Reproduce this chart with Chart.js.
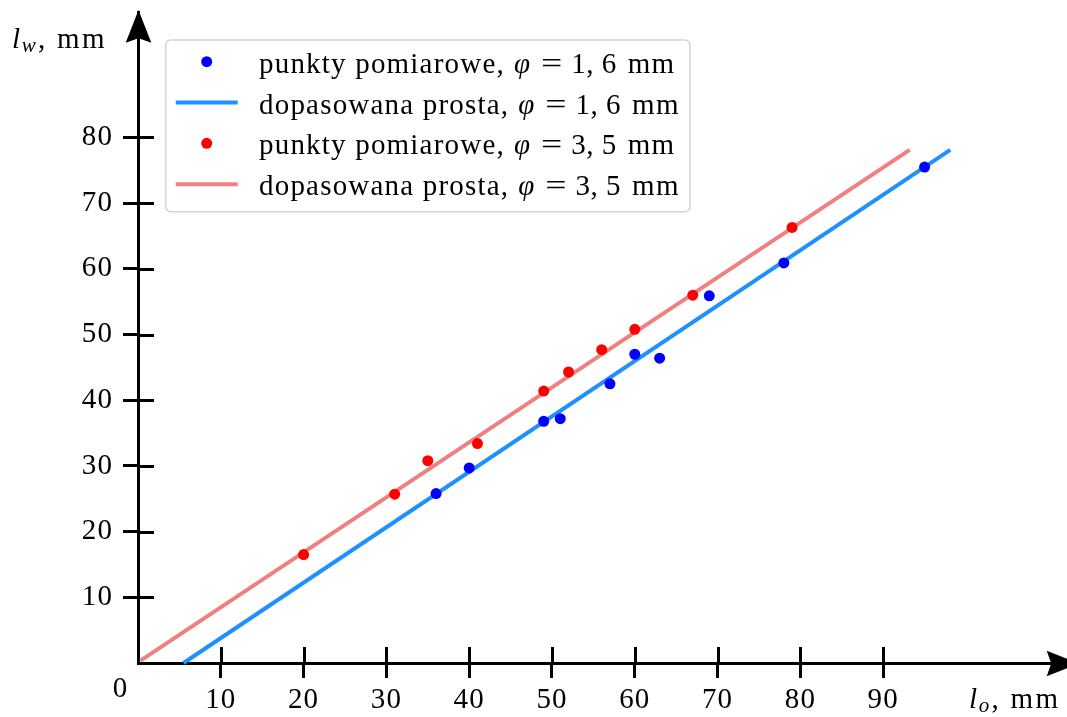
<!DOCTYPE html>
<html>
<head>
<meta charset="utf-8">
<script src="https://cdn.jsdelivr.net/npm/chart.js@4.4.1/dist/chart.umd.min.js"></script>
<style>
html,body{margin:0;padding:0;background:#ffffff;}
#wrap{width:1067px;height:717px;position:relative;overflow:hidden;}
canvas{display:block;}
</style>
</head>
<body>
<div id="wrap"><canvas id="c" width="1067" height="717"></canvas></div>
<script>
// ---- data ----
const blueX = [36, 40, 49, 51, 57, 60, 63, 69, 78, 95];
const blueY = [25.8, 29.7, 36.8, 37.2, 42.5, 47.0, 46.4, 55.9, 60.9, 75.5];
const redX = [20, 31, 35, 41, 49, 52, 56, 60, 67, 79];
const redY = [16.5, 25.7, 30.8, 33.4, 41.4, 44.3, 47.7, 50.8, 56.0, 66.3];
const blueFitX = [5.5, 98.1];
const blueFitY = [0, 78.1];
const redFitX = [0.3, 93.2];
const redFitY = [0.35, 78.1];
const xTicks = [10, 20, 30, 40, 50, 60, 70, 80, 90];
const yTicks = [10, 20, 30, 40, 50, 60, 70, 80];
const seriesNames = ['punkty pomiarowe,', 'dopasowana prosta,', 'punkty pomiarowe,', 'dopasowana prosta,'];
const seriesPhi = ['1, 6', '1, 6', '3, 5', '3, 5'];
const xTitle = ['l', 'o', ', mm'];
const yTitle = ['l', 'w', ', mm'];
const originLabel = '0';

// ---- styles ----
const FONT = '"Liberation Serif", "Times New Roman", serif';
const FS = 29;
const C_BLUE_PT = '#0000ff';
const C_BLUE_LN = '#1e90ff';
const C_RED_PT = '#ff0000';
const C_RED_LN = '#f08080';

function pts(xs, ys) { return xs.map((x, i) => ({x: x, y: ys[i]})); }

function drawRich(ctx, segs, x, y) {
  let cx = x;
  for (const s of segs) {
    ctx.font = (s.italic ? 'italic ' : '') + (s.size || FS) + 'px ' + FONT;
    ctx.letterSpacing = (s.ls !== undefined ? s.ls : 1.2) + 'px';
    cx += (s.before || 0);
    const sx = s.sx || 1;
    const w = ctx.measureText(s.t).width * sx;
    ctx.save();
    ctx.translate(cx, y + (s.dy || 0));
    ctx.scale(sx, 1);
    ctx.fillText(s.t, 0, 0);
    ctx.restore();
    cx += w + (s.after || 0);
  }
  return cx;
}

function arrow(ctx, tipX, tipY, dirX, dirY) {
  const L = 32.7, H = 12.8, N = 4.5;
  const px = -dirY, py = dirX;
  const bx = tipX - dirX * L, by = tipY - dirY * L;
  ctx.beginPath();
  ctx.moveTo(tipX, tipY);
  ctx.lineTo(bx + px * H, by + py * H);
  ctx.lineTo(bx + dirX * N, by + dirY * N);
  ctx.lineTo(bx - px * H, by - py * H);
  ctx.closePath();
  ctx.fill();
}

const decor = {
  id: 'decor',
  beforeDraw(chart) {
    chart.ctx.letterSpacing = '1.1px';
  },
  afterDatasetsDraw(chart) {
    const ctx = chart.ctx;
    const xs = chart.scales.x, ys = chart.scales.y;
    const x0 = xs.getPixelForValue(0), y0 = ys.getPixelForValue(0);
    const area = chart.chartArea;
    ctx.save();
    ctx.fillStyle = '#000';
    ctx.strokeStyle = '#000';
    // inner halves of tick marks
    ctx.lineWidth = 3;
    ctx.beginPath();
    xTicks.forEach(v => { const p = Math.round(xs.getPixelForValue(v)) + 0.5; ctx.moveTo(p, y0); ctx.lineTo(p, y0 - 16); });
    yTicks.forEach(v => { const p = Math.round(ys.getPixelForValue(v)) + 0.5; ctx.moveTo(x0, p); ctx.lineTo(x0 + 16, p); });
    ctx.stroke();
    // arrows
    arrow(ctx, area.right + 12.4, Math.round(y0) + 0.5, 1, 0);
    arrow(ctx, Math.round(x0) + 0.5, area.top - 2, 0, -1);
    // origin label
    ctx.font = FS + 'px ' + FONT;
    ctx.letterSpacing = '0px';
    ctx.textAlign = 'center';
    ctx.textBaseline = 'alphabetic';
    ctx.fillText(originLabel, x0 - 18, y0 + 34);
    // axis titles
    ctx.textAlign = 'left';
    drawRich(ctx, [
      {t: yTitle[0], italic: true, after: 0.5},
      {t: yTitle[1], italic: true, size: 21, dy: 3.5, after: 1},
      {t: yTitle[2], ls: 2.3}
    ], 12, 48);
    drawRich(ctx, [
      {t: xTitle[0], italic: true, after: 0.5},
      {t: xTitle[1], italic: true, size: 21, dy: 4, after: 1},
      {t: xTitle[2], ls: 2.3}
    ], 969, 708);
    // legend
    const bx = 165.7, by = 40, bw = 524.3, bh = 171.7;
    ctx.beginPath();
    ctx.roundRect(bx, by, bw, bh, 5);
    ctx.fillStyle = 'rgba(255,255,255,0.8)';
    ctx.fill();
    ctx.lineWidth = 1.6;
    ctx.strokeStyle = '#d4d4d4';
    ctx.stroke();
    const rows = [61.7, 102.5, 143.3, 184.3];
    chart.data.datasets.forEach((ds, i) => {
      const cy = rows[i];
      if (ds.showLine) {
        ctx.strokeStyle = ds.borderColor;
        ctx.lineWidth = ds.borderWidth;
        ctx.beginPath();
        ctx.moveTo(175.7, cy);
        ctx.lineTo(237.7, cy);
        ctx.stroke();
      } else {
        ctx.fillStyle = ds.backgroundColor;
        ctx.beginPath();
        ctx.arc(206.7, cy, ds.pointRadius, 0, Math.PI * 2);
        ctx.fill();
      }
      ctx.fillStyle = '#000';
      drawRich(ctx, [
        {t: seriesNames[i]},
        {t: '\u03C6', italic: true, before: 9, ls: 0},
        {t: '=', before: 11, sx: 1.3, ls: 0},
        {t: seriesPhi[i], before: 9, ls: 0.5},
        {t: 'mm', before: 11, ls: 1.2}
      ], 259, cy + 11);
    });
    ctx.restore();
  }
};

function zeroPad(s) { s.paddingTop = 0; s.paddingBottom = 0; s.paddingLeft = 0; s.paddingRight = 0; }

const commonTicks = {font: {family: FONT, size: FS}, color: '#000', maxRotation: 0, autoSkip: false};
const commonGrid = {drawOnChartArea: false, drawTicks: true, tickLength: 15, tickWidth: 3, tickColor: '#000'};
const commonBorder = {display: true, color: '#000', width: 3};

new Chart(document.getElementById('c'), {
  type: 'scatter',
  data: {
    datasets: [
      {label: seriesNames[0] + ' ' + seriesPhi[0], data: pts(blueX, blueY), showLine: false,
       backgroundColor: C_BLUE_PT, borderColor: C_BLUE_PT, pointRadius: 5.5, pointBorderWidth: 0, order: 0, clip: false},
      {label: seriesNames[1] + ' ' + seriesPhi[1], data: pts(blueFitX, blueFitY), showLine: true,
       borderColor: C_BLUE_LN, backgroundColor: C_BLUE_LN, borderWidth: 4, pointRadius: 0, order: 2, clip: false},
      {label: seriesNames[2] + ' ' + seriesPhi[2], data: pts(redX, redY), showLine: false,
       backgroundColor: C_RED_PT, borderColor: C_RED_PT, pointRadius: 5.5, pointBorderWidth: 0, order: 0, clip: false},
      {label: seriesNames[3] + ' ' + seriesPhi[3], data: pts(redFitX, redFitY), showLine: true,
       borderColor: C_RED_LN, backgroundColor: C_RED_LN, borderWidth: 4, pointRadius: 0, order: 1, clip: false}
    ]
  },
  options: {
    responsive: false,
    animation: false,
    devicePixelRatio: 1,
    layout: {autoPadding: false, padding: {top: 12, right: 0, left: 0, bottom: 0}},
    plugins: {legend: {display: false}, tooltip: {enabled: false}},
    scales: {
      x: {
        type: 'linear', position: 'bottom', min: 0, max: 112.2,
        afterFit(s) { s.height = 54; zeroPad(s); },
        afterBuildTicks(s) { s.ticks = xTicks.map(v => ({value: v})); },
        ticks: Object.assign({padding: 5}, commonTicks),
        grid: commonGrid, border: commonBorder
      },
      y: {
        type: 'linear', position: 'left', min: 0, max: 99.1,
        afterFit(s) { s.width = 138; zeroPad(s); },
        afterBuildTicks(s) { s.ticks = yTicks.map(v => ({value: v})); },
        ticks: Object.assign({padding: 10}, commonTicks),
        grid: commonGrid, border: commonBorder
      }
    }
  },
  plugins: [decor]
});
</script>
</body>
</html>
